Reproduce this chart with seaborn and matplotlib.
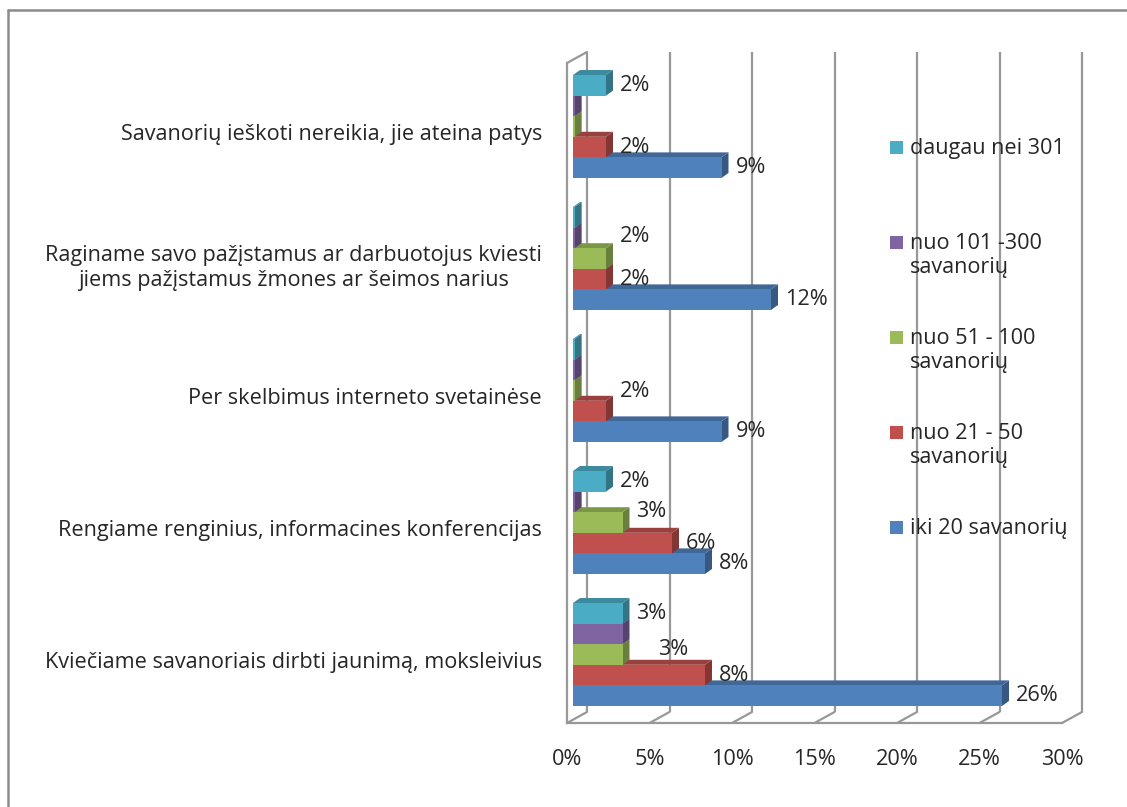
import matplotlib
matplotlib.use("Agg")
import matplotlib.pyplot as plt
from matplotlib.transforms import ScaledTranslation, IdentityTransform
from matplotlib.patches import Polygon, Rectangle
from matplotlib.lines import Line2D
import matplotlib.colors as mcolors
import pandas as pd
import seaborn as sns

# ---------------- data ----------------
categories = [
    "Savanorių ieškoti nereikia, jie ateina patys",
    "Raginame savo pažįstamus ar darbuotojus kviesti\njiems pažįstamus žmones ar šeimos narius",
    "Per skelbimus interneto svetainėse",
    "Rengiame renginius, informacines konferencijas",
    "Kviečiame savanoriais dirbti jaunimą, moksleivius",
]
groups = [
    "daugau nei 301",
    "nuo 101 -300\nsavanorių",
    "nuo 51 - 100\nsavanorių",
    "nuo 21 - 50\nsavanorių",
    "iki 20 savanorių",
]
daugau_nei_301 = [2, 0.1, 0.1, 2, 3]
nuo_101_300 = [0.1, 0.1, 0.1, 0.1, 3]
nuo_51_100 = [0.1, 2, 0.1, 3, 3]
nuo_21_50 = [2, 2, 2, 6, 8]
iki_20 = [9, 12, 9, 8, 26]
x_ticks = [0, 5, 10, 15, 20, 25, 30]
x_tick_labels = ["0%", "5%", "10%", "15%", "20%", "25%", "30%"]
colors = ["#4BACC6", "#8064A2", "#9BBB59", "#C0504D", "#4F81BD"]

series = [daugau_nei_301, nuo_101_300, nuo_51_100, nuo_21_50, iki_20]
df = pd.DataFrame(
    [{"category": c, "group": g, "value": v}
     for g, vals in zip(groups, series) for c, v in zip(categories, vals)]
)

# label placement tweaks (series index, category index) -> pixel nudge (dx, dy up)
label_nudge = {(2, 1): (0, 22), (3, 2): (0, 20), (2, 3): (0, 11), (2, 4): (22, 5)}
label_hidden = {(1, 4)}

# ---------------- figure ----------------
W, H, DPI = 1127, 807, 100
sns.set_theme(style="white")
plt.rcParams["font.family"] = ["Open Sans", "DejaVu Sans"]
FS = 15.6
TXT = "#262626"
GRID = "#989898"

fig = plt.figure(figsize=(W / DPI, H / DPI), dpi=DPI)
fig.patch.set_facecolor("white")


def fx(px):
    return px / W


def fy(py):
    return (H - py) / H


ax = fig.add_axes([fx(567), fy(723), (1062 - 567) / W, (723 - 63) / H])
ax.set_facecolor("none")

sns.barplot(data=df, x="value", y="category", hue="group", order=categories,
            hue_order=groups, palette=colors, saturation=1, width=0.78, gap=0,
            orient="h", legend=False, errorbar=None, ax=ax)

ax.set_xlim(0, 30)
ax.set_ylim(4.5, -0.5)
ax.set_xlabel("")
ax.set_ylabel("")

for s in ["top", "right"]:
    ax.spines[s].set_visible(False)
for s in ["left", "bottom"]:
    ax.spines[s].set_color(GRID)
    ax.spines[s].set_linewidth(1.6)
    ax.spines[s].set_zorder(1)

ax.set_xticks(x_ticks, x_tick_labels)
ax.tick_params(axis="x", which="major", direction="out", length=7, width=1.5,
               color=GRID, pad=12, labelsize=FS, labelcolor=TXT)
ax.set_yticks(range(len(categories)), categories)
ax.tick_params(axis="y", which="major", length=0, pad=18, labelsize=FS,
               labelcolor=TXT)
ax.set_yticks([k - 0.5 for k in range(len(categories) + 1)], minor=True)
ax.tick_params(axis="y", which="minor", direction="out", length=6, width=1.5,
               color=GRID)
for lab in ax.get_yticklabels():
    lab.set_multialignment("center")
    lab.set_linespacing(1.2)
    lab.set_transform(lab.get_transform() +
                      ScaledTranslation(0, -3 / DPI, fig.dpi_scale_trans))

# 3D-like depth offsets (pixels)
BACK = (20, 11)     # back wall relative to front plane
BAR = (6, 2.5)      # bar front face relative to front plane
DEPTH = (7, 5)      # visible depth of each bar

back_tr = ax.transData + ScaledTranslation(BACK[0] / DPI, BACK[1] / DPI,
                                           fig.dpi_scale_trans)
ax.vlines(x_ticks, 4.5, -0.5, colors=GRID, linewidth=1.6, transform=back_tr,
          zorder=0.5, clip_on=False)


def disp(x, y):
    return ax.transData.transform((x, y))


def pix_line(p0, p1):
    ax.add_line(Line2D([p0[0], p1[0]], [p0[1], p1[1]], color=GRID, lw=1.6,
                       transform=IdentityTransform(), clip_on=False, zorder=0.5))


# floor diagonals
for xt in x_ticks:
    p = disp(xt, 4.5)
    pix_line(p, (p[0] + BACK[0], p[1] + BACK[1]))
# left wall top edge
p = disp(0, -0.5)
pix_line(p, (p[0] + BACK[0], p[1] + BACK[1]))

# bars with 3D faces and labels
bar_tr = ax.transData + ScaledTranslation(BAR[0] / DPI, BAR[1] / DPI,
                                          fig.dpi_scale_trans)
for i, (cont, vals) in enumerate(zip(ax.containers, series)):
    base = 3 + (len(groups) - 1 - i)
    col = mcolors.to_rgb(colors[i])
    side_col = tuple(c * 0.68 for c in col)
    top_col = tuple(c * 0.80 for c in col)
    for k, (bar, v) in enumerate(zip(cont, vals)):
        bar.set_transform(bar_tr)
        bar.set_zorder(base + 0.2)
        bar.set_edgecolor("none")
        (x0, y0), (x1, y1) = disp(bar.get_x(), bar.get_y()), disp(
            bar.get_x() + bar.get_width(), bar.get_y() + bar.get_height())
        L, R = min(x0, x1) + BAR[0], max(x0, x1) + BAR[0]
        B, T = min(y0, y1) + BAR[1], max(y0, y1) + BAR[1]
        dx, dy = DEPTH
        side = Polygon([(R, B), (R + dx, B + dy), (R + dx, T + dy), (R, T)],
                       closed=True, facecolor=side_col, edgecolor="none",
                       transform=IdentityTransform(), zorder=base + 0.1,
                       clip_on=False)
        top = Polygon([(L, T), (R, T), (R + dx, T + dy), (L + dx, T + dy)],
                      closed=True, facecolor=top_col, edgecolor="none",
                      transform=IdentityTransform(), zorder=base + 0.1,
                      clip_on=False)
        ax.add_patch(side)
        ax.add_patch(top)
        if v >= 1 and (i, k) not in label_hidden:
            ndx, ndy = label_nudge.get((i, k), (0, 0))
            ax.text(R + dx + 7 + ndx, (B + T) / 2 + ndy, f"{round(v)}%",
                    fontsize=FS, color=TXT, ha="left", va="center",
                    transform=IdentityTransform(), zorder=20)

# legend (manual, Excel-like)
leg_y0, leg_dy = 147, 95
for i, (g, c) in enumerate(zip(groups, colors)):
    yc = leg_y0 + i * leg_dy
    fig.add_artist(Rectangle((fx(890), fy(yc + 6.5)), 13 / W, 13 / H,
                             transform=fig.transFigure, facecolor=c,
                             edgecolor="none"))
    fig.text(fx(910), fy(yc - 9), g, fontsize=FS, color=TXT, ha="left",
             va="top", linespacing=1.2)

# outer chart border
fig.add_artist(Line2D([fx(8), 1.0], [fy(10), fy(10)], transform=fig.transFigure,
                      color="#8c8c8c", lw=1.8))
fig.add_artist(Line2D([fx(8), fx(8)], [fy(10), 0.0], transform=fig.transFigure,
                      color="#8c8c8c", lw=1.8))

fig.savefig("out.png", dpi=DPI)
